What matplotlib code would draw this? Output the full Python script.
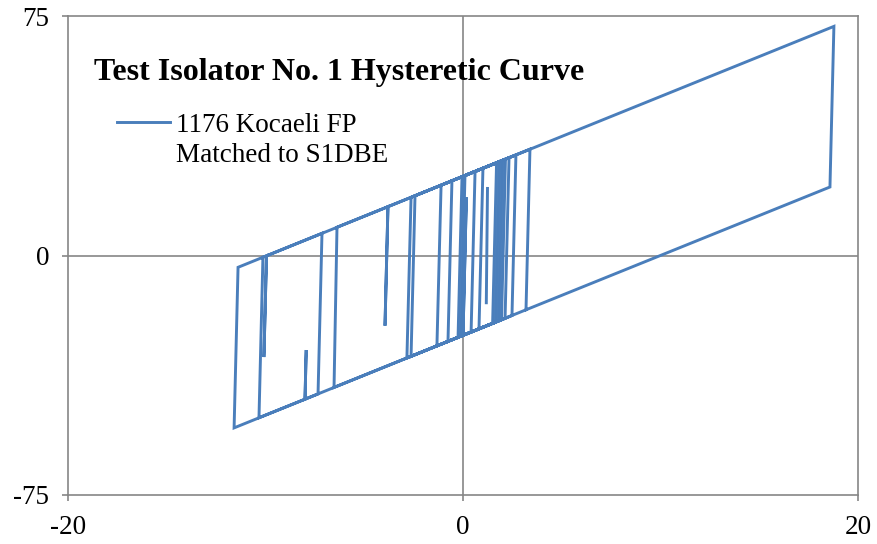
import numpy as np
import matplotlib
matplotlib.use("Agg")
import matplotlib.pyplot as plt
from matplotlib.lines import Line2D

plt.rcParams['font.family'] = ['Liberation Serif', 'DejaVu Serif']

# Isolator displacement (in) and force (kip) at each turning point of the loop trace.
# A NaN entry breaks the trace between separate pieces.
displacement = [
    -0.10, 0.10, 1.01, 0.81, 0.41, 0.61, 1.70, 1.50, -0.25, -0.05,
    1.85, 1.65, -0.76, -0.56, 2.33, 2.13, -1.32, -1.11, 2.00, 1.80,
    0.00, 0.17, 0.00, -2.63, -2.43, 2.68, 2.48, -2.84, -2.63, 2.15,
    1.95, -6.53, -6.38, -3.80, -3.95, -3.80, 3.39, 3.19, -11.59, -11.39,
    -9.95, -10.08, -9.95, -10.13, -10.33, -8.00, -7.94, -8.00, -7.34, -7.14,
    -9.95, 18.78, 18.58, 3.19, np.nan, 1.18, 1.24,
]
force = [
    -25.25, 25.05, 27.30, -23.00, -24.00, 26.30, 29.05, -21.25, -25.60, 24.70,
    29.40, -20.90, -26.90, 23.40, 30.60, -19.70, -28.30, 22.00, 29.80, -20.50,
    -25.00, 18.20, -25.00, -31.60, 18.70, 31.50, -18.80, -32.10, 18.20, 30.20,
    -20.10, -41.30, 8.85, 15.30, -22.00, 15.30, 33.30, -17.00, -53.98, -3.70,
    -0.10, -31.80, -0.10, -0.50, -50.80, -45.00, -29.60, -45.00, -43.35, 6.95,
    -0.10, 71.75, 21.45, -17.00, np.nan, -14.80, 21.00,
]

x_ticks = [-20, 0, 20]
y_ticks = [-75, 0, 75]

title = "Test Isolator No. 1 Hysteretic Curve"
series_lines = ["1176 Kocaeli FP", "Matched to S1DBE"]

W, H = 878, 544
fig = plt.figure(figsize=(W / 100, H / 100), dpi=100)
ax = fig.add_axes([68 / W, 1 - 495 / H, (858 - 68) / W, (495 - 16) / H])

axis_grey = "#868686"
line_blue = "#4A7EBB"

ax.axhline(0, color=axis_grey, lw=1.2, zorder=1)
ax.axvline(0, color=axis_grey, lw=1.2, zorder=1)

line, = ax.plot(displacement, force, color=line_blue, lw=2.1,
                solid_joinstyle="miter", zorder=3)

ax.set_xlim(-20, 20)
ax.set_ylim(-75, 75)
ax.set_xticks(x_ticks)
ax.set_yticks(y_ticks)
ax.set_xticklabels([str(v) for v in x_ticks])
ax.set_yticklabels([str(v) for v in y_ticks])

for s in ax.spines.values():
    s.set_color(axis_grey)
    s.set_linewidth(1.2)
ax.tick_params(axis="both", direction="out", length=4.5, width=1.2,
               color=axis_grey, labelsize=19.5, labelcolor="black")
ax.tick_params(axis="x", pad=10)
ax.tick_params(axis="y", pad=9)

# Chart title, sitting inside the plot area
fig.text(94 / W, 1 - 80 / H, title, fontsize=23, fontweight="bold",
         ha="left", va="baseline", zorder=5)

# Series key: sample line beside a two-line label
fig.add_artist(Line2D([117 / W, 170 / W], [1 - 122 / H, 1 - 122 / H],
                      color=line_blue, lw=2.1, transform=fig.transFigure))
for i, txt in enumerate(series_lines):
    fig.text(176 / W, 1 - (132 + 30 * i) / H, txt, fontsize=19.5,
             ha="left", va="baseline", zorder=5)

fig.savefig("out.png", dpi=100)
